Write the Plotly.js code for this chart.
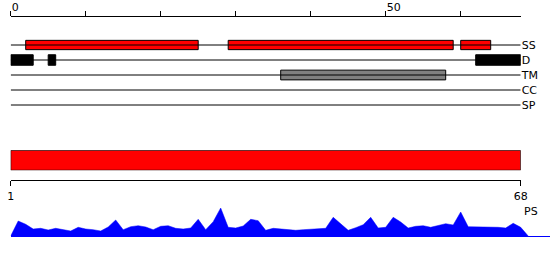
<!DOCTYPE html>
<html>
<head>
<meta charset="utf-8">
<script src="https://cdn.plot.ly/plotly-3.0.1.min.js"></script>
<style>html,body{margin:0;padding:0;background:#fff;}#chart{width:550px;height:260px;}</style>
</head>
<body>
<div id="chart"></div>
<script>
// ---- data ----
const tracks = ['SS', 'D', 'TM', 'CC', 'SP'];
const seqLen = 68;
const ssStart = [2, 29, 60];
const ssEnd = [25, 59, 64];
const dStart = [0, 5, 62];
const dEnd = [3, 6, 68];
const tmStart = [36];
const tmEnd = [58];
const topTickVals = [0, 10, 20, 30, 40, 50, 60];
const topTickText = ['0', '', '', '', '', '50', ''];
const bottomTickText = ['1', '68'];
const profileLabel = 'PS';
// profile value per position 1..68
const profile = [15, 11.7, 7, 7.7, 6, 7.7, 6, 5, 8.7, 7,
  6.3, 5, 9, 16, 6.3, 9.3, 10.3, 9, 6.3, 9.7,
  10.3, 7.7, 7, 8, 16.7, 6.3, 14.3, 28, 8.7, 8,
  10, 16.7, 15.3, 5.7, 7.7, 7, 6.5, 5.7, 6.3, 6.7,
  7.3, 7.7, 18.7, 12, 5.7, 8.3, 11.3, 18.7, 8, 8.7,
  18.7, 14, 8, 9.7, 10.3, 8.7, 10.7, 12.3, 11, 24,
  9.3, 9.3, 9, 8.7, 8.7, 8, 12.7, 8.7];

// ---- geometry helpers ----
const W = 550, H = 260;
const px0 = 10.7, pxPerUnit = 7.5;
const xDomain = [px0 / W, (px0 + seqLen * pxPerUnit) / W];
const py = v => 1 - v / H;

const FONT = 'DejaVu Sans, sans-serif';
const traces = [];

// track lines
tracks.forEach(t => {
  traces.push({type: 'scatter', mode: 'lines', x: [0, seqLen], y: [t, t],
    line: {color: '#000', width: 1}, hoverinfo: 'skip', showlegend: false,
    xaxis: 'x', yaxis: 'y'});
});

function featureBars(track, starts, ends, color, width) {
  return {type: 'bar', orientation: 'h', y: starts.map(() => track),
    base: starts, x: starts.map((s, i) => ends[i] - s), width: width,
    marker: {color: color, line: {color: '#000', width: 1}},
    showlegend: false, hoverinfo: 'skip', xaxis: 'x', yaxis: 'y'};
}
traces.push(featureBars('SS', ssStart, ssEnd, '#ff0000', 0.62));
traces.push(featureBars('D', dStart, dEnd, '#000000', 0.7));
traces.push(featureBars('TM', tmStart, tmEnd, '#808080', 0.65));

// full-length sequence bar
traces.push({type: 'bar', orientation: 'h', y: [0], base: [0], x: [seqLen], width: 1,
  marker: {color: '#ff0000', line: {color: '#000', width: 1}},
  showlegend: false, hoverinfo: 'skip', xaxis: 'x2', yaxis: 'y2'});

// profile
const profX = [0].concat(profile.map((v, i) => i + 1), [seqLen + 1]);
const profY = [0].concat(profile, [0]);
traces.push({type: 'scatter', mode: 'lines', x: profX, y: profY, fill: 'tozeroy',
  fillcolor: '#0000ff', line: {color: '#0000ff', width: 0.5},
  showlegend: false, hoverinfo: 'skip', xaxis: 'x3', yaxis: 'y3'});

const layout = {
  width: W, height: H,
  margin: {l: 0, r: 0, t: 0, b: 0, pad: 0},
  paper_bgcolor: '#fff', plot_bgcolor: 'rgba(0,0,0,0)',
  showlegend: false, barmode: 'overlay',
  font: {family: FONT, size: 11, color: '#000'},
  xaxis: {domain: xDomain, range: [0, seqLen], anchor: 'free', position: py(15.5),
    side: 'top', showline: true, linecolor: '#000', linewidth: 1,
    ticks: 'outside', ticklen: 5, tickcolor: '#000', tickwidth: 1,
    tickvals: topTickVals, ticktext: topTickText, ticklabelposition: 'outside right',
    tickfont: {family: FONT, size: 11, color: '#000'},
    showgrid: false, zeroline: false, fixedrange: true},
  yaxis: {domain: [py(112.5), py(37.5)], type: 'category', categoryorder: 'array',
    categoryarray: tracks, range: [4.5, -0.5], anchor: 'free', position: xDomain[1],
    side: 'right', showline: false, ticks: '', showgrid: false, zeroline: false,
    tickfont: {family: FONT, size: 11, color: '#000'}, ticklabelstandoff: 0},
  xaxis2: {domain: xDomain, range: [0, seqLen], anchor: 'free', position: py(180.3),
    side: 'bottom', showline: true, linecolor: '#000', linewidth: 1,
    ticks: 'outside', ticklen: 5, tickcolor: '#000', tickwidth: 1,
    tickvals: [0, seqLen], ticktext: bottomTickText,
    tickfont: {family: FONT, size: 11, color: '#000'},
    showgrid: false, zeroline: false},
  yaxis2: {domain: [py(170.3), py(150.3)], range: [-0.5, 0.5], anchor: 'x2', visible: false},
  xaxis3: {domain: [px0 / W, 1], range: [0, (W - px0) / pxPerUnit], anchor: 'y3', visible: false},
  yaxis3: {domain: [py(236.5), py(196)], range: [-0.5, 40], anchor: 'x3',
    showgrid: false, showline: false, ticks: '', showticklabels: false,
    zeroline: true, zerolinecolor: '#0000ff', zerolinewidth: 1},
  annotations: [{text: profileLabel, xref: 'paper', yref: 'paper', x: (px0 + seqLen * pxPerUnit + 1) / W,
    y: py(211), xanchor: 'left', yanchor: 'middle', showarrow: false,
    font: {family: FONT, size: 11, color: '#000'}}]
};

Plotly.newPlot('chart', traces, layout, {displayModeBar: false, staticPlot: true});
</script>
</body>
</html>
